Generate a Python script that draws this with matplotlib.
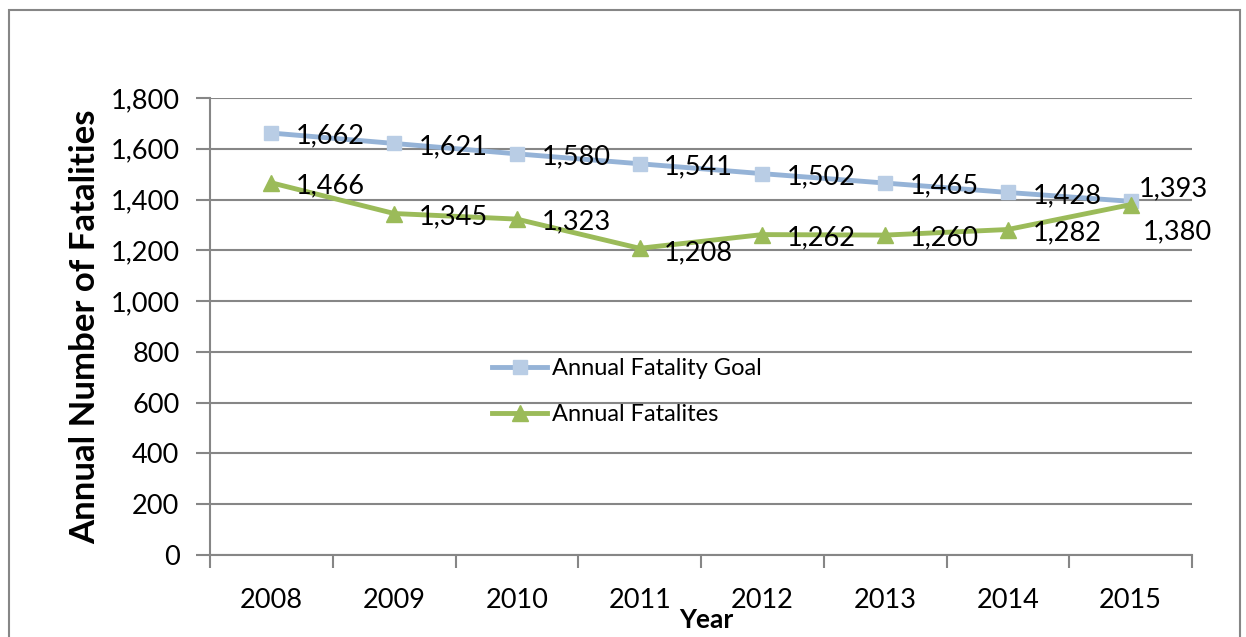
import matplotlib
matplotlib.use("Agg")
import matplotlib.pyplot as plt
from matplotlib.patches import Rectangle

years = ["2008", "2009", "2010", "2011", "2012", "2013", "2014", "2015"]
goal = [1662, 1621, 1580, 1541, 1502, 1465, 1428, 1393]
fatalities = [1466, 1345, 1323, 1208, 1262, 1260, 1282, 1380]
yticks = [0, 200, 400, 600, 800, 1000, 1200, 1400, 1600, 1800]

plt.rcParams['font.family'] = ['Lato', 'DejaVu Sans']

W, H = 1246, 637
fig = plt.figure(figsize=(W / 100, H / 100), dpi=100)
ax = fig.add_axes([210 / W, 1 - 555 / H, (1192 - 210) / W, (555 - 98) / H])

fig.patches.append(Rectangle((9 / W, -0.1), (1240 - 9) / W, 1.1 - 10 / H + 0.0,
                             transform=fig.transFigure, fill=False,
                             edgecolor='#868686', linewidth=1.5))

x = list(range(len(years)))
grid_c = '#868686'
ax.plot(x, goal, color='#95B3D7', lw=3.5, marker='s', ms=10,
        mfc='#B9CDE5', mec='#B9CDE5', label='Annual Fatality Goal', zorder=3)
ax.plot(x, fatalities, color='#9BBB59', lw=3.5, marker='^', ms=11,
        mfc='#9BBB59', mec='#9BBB59', label='Annual Fatalites', zorder=3)

ax.set_xlim(-0.5, len(years) - 0.5)
ax.set_ylim(0, 1800)
ax.set_yticks(yticks)
ax.set_yticklabels([f"{v:,}" for v in yticks], fontsize=19.5)
ax.set_xticks(x)
ax.set_xticklabels(years, fontsize=19.5)
ax.tick_params(axis='x', length=0, pad=24)
ax.set_xticks([i - 0.5 for i in range(len(years) + 1)], minor=True)
ax.tick_params(axis='x', which='minor', length=9, width=1.5, color=grid_c, direction='out')
ax.tick_params(axis='y', length=10, width=1.5, color=grid_c, direction='out', pad=12)
ax.yaxis.grid(True, color=grid_c, lw=1.5)
ax.set_axisbelow(True)
for s in ['top', 'right']:
    ax.spines[s].set_visible(False)
for s in ['left', 'bottom']:
    ax.spines[s].set_color(grid_c)
    ax.spines[s].set_linewidth(1.5)

for i, v in enumerate(goal):
    dy = 0
    dx = 0.2
    if i == len(goal) - 1:
        dy = 60
        dx = 0.07
    ax.text(i + dx, v + dy - 12, f"{v:,}", fontsize=19.5, va='center', ha='left', zorder=4)
for i, v in enumerate(fatalities):
    dy = 0
    dx = 0.2
    if i == 3:
        dy = -5
    if i == len(fatalities) - 1:
        dy = -95
        dx = 0.1
    ax.text(i + dx, v + dy - 12, f"{v:,}", fontsize=19.5, va='center', ha='left', zorder=4)

ax.set_ylabel('Annual Number of Fatalities', fontsize=25, fontweight='bold')
ax.yaxis.set_label_coords((101 - 210) / (1192 - 210), 0.5)
fig.text(706 / W, 1 - 620 / H, 'Year', fontsize=19, fontweight='bold', ha='center', va='center')

leg = ax.legend(loc='upper left', bbox_to_anchor=((492 - 210) / (1192 - 210), (555 - 358) / (555 - 98)),
                frameon=False, fontsize=17, handlelength=2.35, handletextpad=0.2,
                labelspacing=1.05, borderaxespad=0, borderpad=0)

fig.savefig('out.png', dpi=100)
